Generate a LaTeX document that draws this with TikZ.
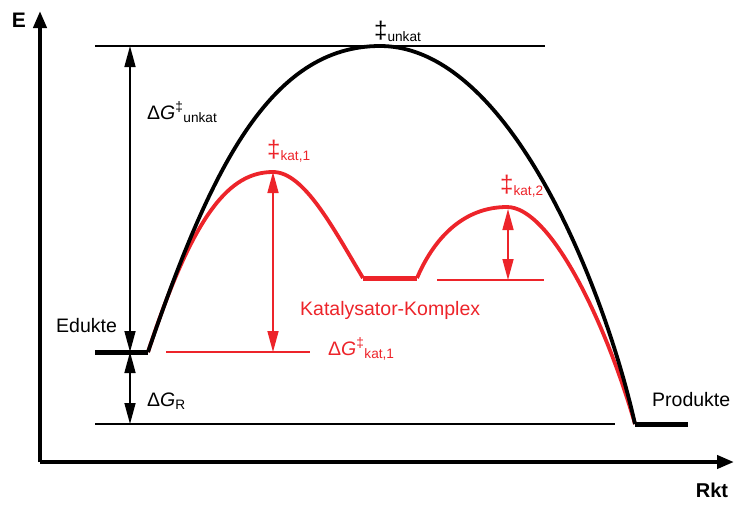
\documentclass[tikz,border=0pt]{standalone}
\usepackage{fontspec}
\setmainfont{Liberation Sans}
\usetikzlibrary{arrows.meta}
\definecolor{kred}{RGB}{237,36,42}
\newcommand{\bigdd}{{\fontsize{24}{24}\selectfont ‡}}
\begin{document}
\begin{tikzpicture}[x=1pt,y=-1pt,
  axis/.style={line width=4pt,-{Triangle[length=17pt,width=13pt]}},
  thinline/.style={line width=1.5pt},
  level/.style={line width=5pt},
  curve/.style={line width=3.8pt},
  dbl/.style={line width=1.6pt,{Stealth[length=21pt,width=11pt,inset=0pt]}-{Stealth[length=21pt,width=11pt,inset=0pt]}},
  lbl/.style={font=\fontsize{19.5}{22}\selectfont,inner sep=0pt}]
\useasboundingbox (0,0) rectangle (735,504);
% axes
\coordinate (o) at (40,462);
\coordinate (ytip) at (40,11);
\coordinate (xtip) at (734,462);
\draw[axis] (o) -- (ytip);
\draw[axis] (o) -- (xtip);
\node[lbl,font=\fontsize{21}{22}\selectfont\bfseries] (E) at (19,20) {E};
\node[lbl,font=\fontsize{20}{22}\selectfont\bfseries] (Rkt) at (712,490) {Rkt};
% reference lines
\coordinate (tl) at (95,46); \coordinate (tr) at (545,46);
\draw[thinline] (tl) -- (tr);
\coordinate (bl) at (95,424); \coordinate (br) at (615,424);
\draw[thinline] (bl) -- (br);
% levels
\coordinate (e1) at (95,352); \coordinate (e2) at (148,352);
\coordinate (p1) at (635,424); \coordinate (p2) at (688,424);
% red curve
\coordinate (k1) at (273,172);
\coordinate (m1) at (363,278); \coordinate (m2) at (417,278);
\coordinate (k2) at (507,207);
\draw[curve,kred] (e2) .. controls (194,212) and (230,172) .. (k1) .. controls (304,172) and (333,228) .. (m1);
\draw[level,kred] (m1) -- (m2);
\draw[curve,kred] (m2) .. controls (435,236) and (465,207) .. (k2) .. controls (550,207) and (605,320) .. (p1);
% black curve
\coordinate (top) at (380,46);
\draw[curve,line join=round] (e2) .. controls (210,170) and (270,46) .. (top) .. controls (510,46) and (605,290) .. (p1);
\draw[level] (e1) -- (e2);
\draw[level] (p1) -- (p2);
% black arrows
\coordinate (a1) at (130,46); \coordinate (a2) at (130,352); \coordinate (a3) at (130,424);
\draw[dbl] (a2) -- (a1);
\draw[dbl] (a2) -- (a3);
% red lines and arrows
\coordinate (r1) at (166,352); \coordinate (r2) at (310,352);
\draw[thinline,kred] (r1) -- (r2);
\coordinate (rk1) at (273,352);
\draw[dbl,kred] (rk1) -- (k1);
\coordinate (s1) at (437,280); \coordinate (s2) at (544,280);
\draw[thinline,kred] (s1) -- (s2);
\coordinate (rk2) at (508,280); \coordinate (rk2t) at (508,209);
\draw[dbl,kred] (rk2) -- (rk2t);
% labels
\node[lbl,anchor=base west] (unk) at (374,38) {\bigdd\textsubscript{unkat}};
\node[lbl,anchor=west] (dgu) at (147,112) {Δ\textit{G}\textsuperscript{‡}\textsubscript{unkat}};
\node[lbl,anchor=west] (edu) at (56,326) {Edukte};
\node[lbl,anchor=west] (dgr) at (147,401) {Δ\textit{G}\textsubscript{R}};
\node[lbl,anchor=west] (pro) at (652,400) {Produkte};
\node[lbl,anchor=base west,kred] (kk1) at (267,157) {\bigdd\textsubscript{kat,1}};
\node[lbl,anchor=base west,kred] (kk2) at (500,192) {\bigdd\textsubscript{kat,2}};
\node[lbl,anchor=west,kred] (kom) at (300,310) {Katalysator-Komplex};
\node[lbl,anchor=west,kred] (dgk) at (328,349) {Δ\textit{G}\textsuperscript{‡}\textsubscript{kat,1}};
\end{tikzpicture}
\end{document}
